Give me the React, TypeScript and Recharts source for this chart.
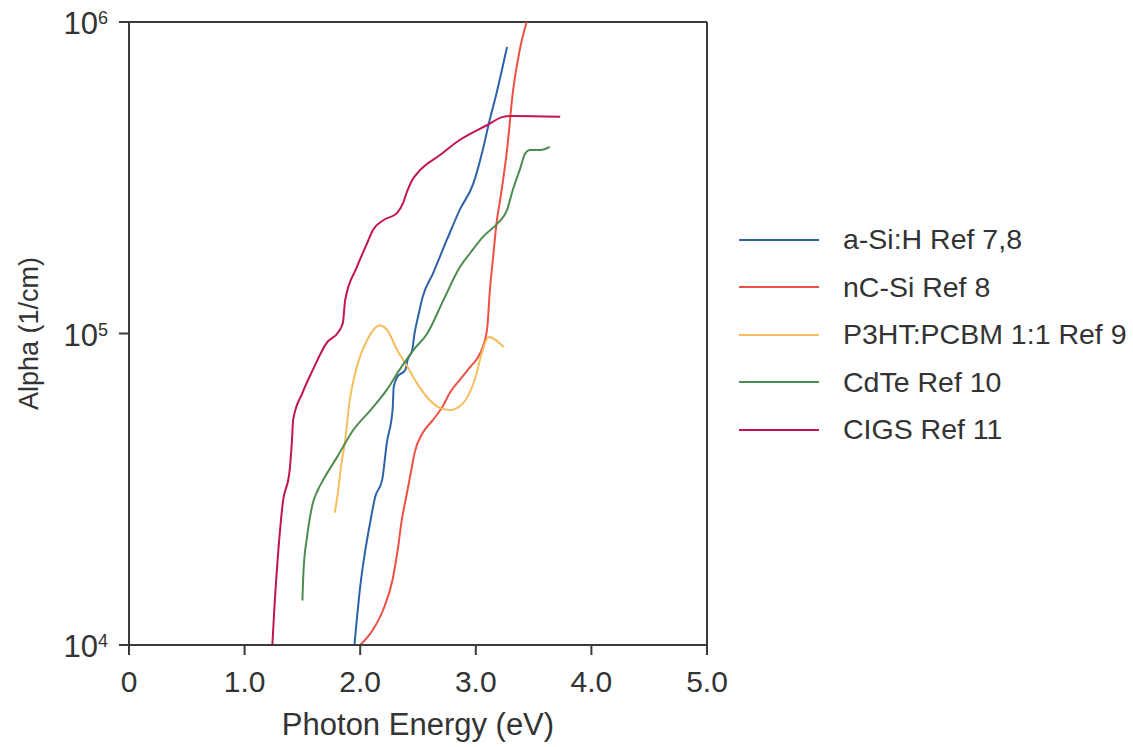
import React from "react";
import { LineChart, Line, XAxis, YAxis, ReferenceLine } from "recharts";

// photon energy (eV) / absorption coefficient (1/cm)
const aSiH_E = [1.95, 1.97, 2.0, 2.04, 2.09, 2.13, 2.19, 2.23, 2.28, 2.29, 2.32, 2.39, 2.41, 2.45, 2.47, 2.5, 2.54, 2.63, 2.75, 2.86, 2.98, 3.06, 3.12, 3.18, 3.27];
const aSiH_A = [10000, 12000, 15400, 19700, 25200, 29900, 33900, 44500, 56800, 67300, 72500, 76400, 82200, 88500, 100000, 113000, 131000, 156000, 200000, 249000, 304000, 388000, 485000, 592000, 831000];

const ncSi_E = [2.0, 2.11, 2.2, 2.28, 2.32, 2.36, 2.41, 2.45, 2.47, 2.54, 2.63, 2.71, 2.78, 2.86, 2.95, 3.02, 3.06, 3.1, 3.12, 3.15, 3.18, 3.21, 3.27, 3.32, 3.38, 3.44];
const ncSi_A = [10000, 11200, 13000, 16200, 19700, 25200, 31500, 37800, 41300, 47900, 52800, 58100, 64900, 70900, 78000, 84100, 90500, 105000, 135000, 176000, 227000, 268000, 388000, 592000, 813000, 1000000];

const p3ht_E = [1.78, 1.81, 1.83, 1.87, 1.91, 1.97, 2.06, 2.17, 2.23, 2.32, 2.41, 2.49, 2.6, 2.69, 2.78, 2.89, 2.99, 3.06, 3.11, 3.24];
const p3ht_A = [26600, 31500, 36500, 45500, 61200, 78000, 95300, 106000, 103000, 88500, 78000, 69300, 61200, 57700, 56800, 59800, 70900, 88500, 97500, 90500];

const cdte_E = [1.5, 1.51, 1.54, 1.59, 1.635, 1.68, 1.8, 1.94, 2.09, 2.23, 2.34, 2.46, 2.58, 2.72, 2.86, 2.95, 3.06, 3.19, 3.27, 3.32, 3.38, 3.43, 3.47, 3.56, 3.64];
const cdte_A = [13900, 17400, 22200, 28500, 31500, 33900, 40100, 49000, 56800, 65900, 76400, 88500, 100000, 128000, 163000, 181000, 204000, 226000, 249000, 289000, 335000, 380000, 388000, 388000, 397000];

const cigs_E = [1.24, 1.26, 1.29, 1.33, 1.39, 1.41, 1.42, 1.5, 1.59, 1.71, 1.81, 1.85, 1.87, 1.97, 2.06, 2.11, 2.2, 2.32, 2.37, 2.4, 2.45, 2.52, 2.69, 2.86, 3.1, 3.23, 3.32, 3.73];
const cigs_A = [10000, 13600, 19700, 28500, 36500, 45500, 52800, 64400, 76400, 93300, 101000, 108000, 128000, 163000, 195000, 215000, 231000, 244000, 262000, 282000, 311000, 335000, 374000, 418000, 467000, 495000, 499000, 496000];

const xTicks = [0, 1, 2, 3, 4, 5];
const yTicks = [1e4, 1e5, 1e6];

const zip = (e: number[], a: number[]) => e.map((v, i) => ({ e: v, a: a[i] }));

const series = [
  { name: "a-Si:H Ref 7,8", color: "#2e62a8", data: zip(aSiH_E, aSiH_A) },
  { name: "nC-Si Ref 8", color: "#ee5045", data: zip(ncSi_E, ncSi_A) },
  { name: "P3HT:PCBM 1:1 Ref 9", color: "#f6bd5e", data: zip(p3ht_E, p3ht_A) },
  { name: "CdTe Ref 10", color: "#4d8c4f", data: zip(cdte_E, cdte_A) },
  { name: "CIGS Ref 11", color: "#c0154f", data: zip(cigs_E, cigs_A) },
];

const FONT = '"Liberation Sans", Arial, sans-serif';
const AXIS = "#3a3a3a";

const XTick = ({ x, y, payload }: any) => (
  <text x={x} y={y + 35} textAnchor="middle" fontSize={30} fontFamily={FONT} fill="#333">
    {payload.value === 0 ? "0" : payload.value.toFixed(1)}
  </text>
);

const YTick = ({ x, y, payload }: any) => (
  <text x={x - 9} y={y + 12} textAnchor="end" fontFamily={FONT} fill="#333">
    <tspan fontSize={31}>10</tspan>
    <tspan fontSize={18} dy={-10}>{Math.round(Math.log10(payload.value))}</tspan>
  </text>
);

export default function App() {
  return (
    <div style={{ position: "absolute", left: 0, top: 0, width: 1133, height: 747, background: "#fff" }}>
      <LineChart width={1133} height={747} margin={{ top: 22, right: 426, bottom: 0, left: 0 }}>
        <XAxis
          dataKey="e"
          type="number"
          domain={[0, 5]}
          ticks={xTicks}
          allowDataOverflow
          height={102}
          tickSize={10}
          stroke={AXIS}
          strokeWidth={2}
          tick={<XTick />}
          label={{ value: "Photon Energy (eV)", position: "insideBottom", offset: 12, fontSize: 31, fontFamily: FONT, fill: "#333" }}
        />
        <YAxis
          dataKey="a"
          type="number"
          scale="log"
          domain={[1e4, 1e6]}
          ticks={yTicks}
          allowDataOverflow
          width={129}
          tickSize={10}
          stroke={AXIS}
          strokeWidth={2}
          tick={<YTick />}
          label={{ value: "Alpha (1/cm)", angle: -90, position: "insideLeft", offset: 28, fontSize: 27, fontFamily: FONT, fill: "#333", style: { textAnchor: "middle" } }}
        />
        <ReferenceLine y={1e6} stroke={AXIS} strokeWidth={2} />
        <ReferenceLine x={5} stroke={AXIS} strokeWidth={2} />
        {series.map((s) => (
          <Line
            key={s.name}
            data={s.data}
            dataKey="a"
            name={s.name}
            type="monotone"
            stroke={s.color}
            strokeWidth={2}
            dot={false}
            isAnimationActive={false}
          />
        ))}
      </LineChart>
      <div style={{ position: "absolute", left: 739, top: 216, fontFamily: FONT }}>
        {series.map((s) => (
          <div key={s.name} style={{ display: "flex", alignItems: "center", height: 47.5 }}>
            <div style={{ width: 80, height: 2, background: s.color }} />
            <span style={{ marginLeft: 24, fontSize: 28.5, color: "#333", whiteSpace: "nowrap" }}>{s.name}</span>
          </div>
        ))}
      </div>
    </div>
  );
}
